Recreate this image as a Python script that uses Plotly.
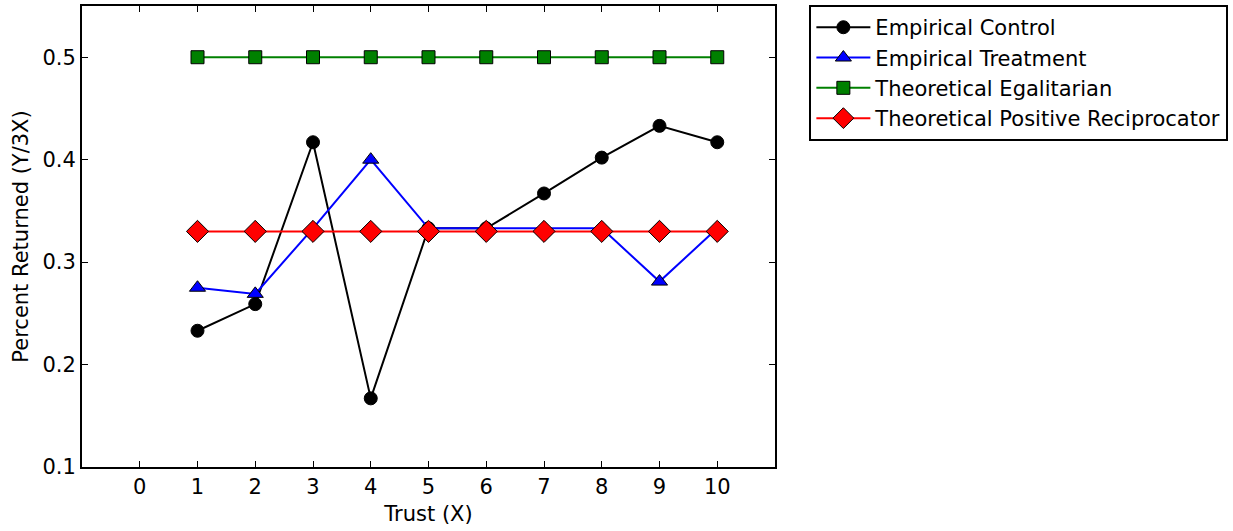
import plotly.graph_objects as go

trust = [1, 2, 3, 4, 5, 6, 7, 8, 9, 10]
empirical_control = [0.233, 0.259, 0.417, 0.167, 0.333, 0.333, 0.367, 0.402, 0.433, 0.417]
empirical_treatment = [0.275, 0.269, 0.333, 0.400, 0.333, 0.333, 0.333, 0.333, 0.281, 0.333]
theoretical_egalitarian = [0.5] * 10
theoretical_reciprocator = [0.33] * 10

x_ticks = [0, 1, 2, 3, 4, 5, 6, 7, 8, 9, 10]
y_ticks = [0.1, 0.2, 0.3, 0.4, 0.5]

FONT = "DejaVu Sans"
FS = 21
fig = go.Figure()
fig.add_trace(go.Scatter(x=trust, y=empirical_control, mode="lines+markers", name="Empirical Control",
                         line=dict(color="black", width=2),
                         marker=dict(symbol="circle", size=13, color="black", line=dict(color="black", width=1))))
fig.add_trace(go.Scatter(x=trust, y=empirical_treatment, mode="lines+markers", name="Empirical Treatment",
                         line=dict(color="blue", width=2),
                         marker=dict(symbol="triangle-up", size=14, color="blue", line=dict(color="black", width=1))))
fig.add_trace(go.Scatter(x=trust, y=theoretical_egalitarian, mode="lines+markers", name="Theoretical Egalitarian",
                         line=dict(color="green", width=2),
                         marker=dict(symbol="square", size=13, color="green", line=dict(color="black", width=1))))
fig.add_trace(go.Scatter(x=trust, y=theoretical_reciprocator, mode="lines+markers", name="Theoretical Positive Reciprocator",
                         line=dict(color="red", width=2),
                         marker=dict(symbol="diamond", size=17, color="red", line=dict(color="black", width=1))))

axis_common = dict(showline=True, linecolor="black", linewidth=2, mirror="allticks",
                   ticks="inside", ticklen=6, tickwidth=1, tickcolor="black",
                   showgrid=False, zeroline=False,
                   tickfont=dict(family=FONT, size=FS, color="black"))
fig.update_xaxes(range=[-1, 11], tickvals=x_ticks, ticktext=[str(t) for t in x_ticks],
                 title=dict(text="Trust (X)", font=dict(family=FONT, size=FS, color="black"), standoff=8),
                 **axis_common)
fig.update_yaxes(range=[0.1, 0.55], tickvals=y_ticks, ticktext=[f"{t:.1f}" for t in y_ticks],
                 title=dict(text="Percent Returned (Y/3X)", font=dict(family=FONT, size=FS, color="black"), standoff=8),
                 **axis_common)

fig.update_layout(
    width=1233, height=531,
    margin=dict(l=82, r=455, t=5, b=64),
    plot_bgcolor="white", paper_bgcolor="white",
    font=dict(family=FONT, size=FS, color="black"),
    legend=dict(x=1.0496, y=1.002, xanchor="left", yanchor="top",
                bordercolor="black", borderwidth=2, bgcolor="white",
                font=dict(family=FONT, size=FS, color="black"),
                itemwidth=54, tracegroupgap=0),
)
fig.write_html("out.html")
